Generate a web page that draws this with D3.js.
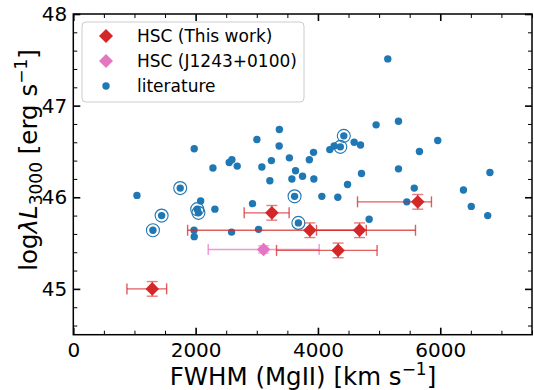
<!DOCTYPE html>
<html><head><meta charset="utf-8">
<script src="https://cdn.jsdelivr.net/npm/d3@7"></script>
<style>body{margin:0;background:#fff}svg{display:block;font-family:"DejaVu Sans",sans-serif}</style>
</head><body><svg id="c" width="534" height="390"></svg>
<script>
// literature points: FWHM(MgII) [km/s], log lambda L3000
const litFWHM = [1041,1748,1444,1302,1977,2283,2549,2593,2680,3002,3083,3239,3369,3366,3533,3634,3574,3214,3748,3933,3859,3928,4194,4265,4423,4366,4592,4696,4951,5317,5660,5142,5959,4712,5317,6812,4484,4064,4325,5575,5453,6379,6507,6776,4837,3618,3680,2082,2026,2046,2315,2931,1974,1977,2588,3029];
const litL    = [46.02,46.10,45.80,45.64,46.53,46.32,46.38,46.41,46.34,46.63,46.33,46.40,46.74,46.56,46.43,46.29,46.20,46.18,46.23,46.20,46.41,46.49,46.52,46.56,46.67,46.55,46.60,46.57,46.79,46.83,46.50,47.51,46.62,46.26,46.31,46.27,46.14,46.01,46.00,46.10,45.95,46.08,45.90,45.80,45.76,46.01,45.72,45.96,45.87,45.83,45.87,45.93,45.64,45.57,45.62,45.65];
// literature points marked with an open ring
const ringFWHM = [1748,1444,1302,4423,4366,3618,3680,2026,2046];
const ringL    = [46.10,45.80,45.64,46.67,46.55,46.01,45.72,45.87,45.83];
// HSC (This work)
const hscFWHM = [1291,3247,5632,3868,4680,4330];
const hscLo   = [877,2794,4647,1869,3977,3323];
const hscHi   = [1526,3529,5856,4791,5595,4967];
const hscL    = [45.00,45.83,45.95,45.64,45.64,45.42];
const hscLerr = [0.08,0.08,0.08,0.08,0.08,0.08];
// HSC (J1243+0100)
const jFWHM = [3111], jLo = [2206], jHi = [4020], jL = [45.43], jLerr = [0.04];
const xMajor = [0,2000,4000,6000];
const yMajor = [45,46,47,48];

const svg = d3.select("#c");
const L = 73.3, R = 532, T = 14, B = 334.7;
const x = d3.scaleLinear().domain([0,7500]).range([L,R]);
const y = d3.scaleLinear().domain([44.5,48]).range([B,T]);
const red = "#d62728", pink = "#e377c2", blue = "#1f77b4";

// minor ticks
const xMinor = d3.range(0,7501,500).filter(v=>!xMajor.includes(v));
const yMinor = d3.range(44.6,48.0,0.2).map(v=>+v.toFixed(1)).filter(v=>!yMajor.includes(v));
function axisStyle(g){ g.select(".domain").remove(); g.selectAll("line").attr("stroke","#000"); }
const ax = [
 [d3.axisBottom(x).tickValues(xMinor).tickSize(-4).tickFormat(""), `translate(0,${B})`,1],
 [d3.axisTop(x).tickValues(xMinor).tickSize(-4).tickFormat(""), `translate(0,${T})`,1],
 [d3.axisLeft(y).tickValues(yMinor).tickSize(-4).tickFormat(""), `translate(${L},0)`,1],
 [d3.axisRight(y).tickValues(yMinor).tickSize(-4).tickFormat(""), `translate(${R},0)`,1],
 [d3.axisBottom(x).tickValues(xMajor).tickSize(-7).tickPadding(8).tickFormat(d3.format("d")), `translate(0,${B})`,1.6],
 [d3.axisTop(x).tickValues(xMajor).tickSize(-7).tickFormat(""), `translate(0,${T})`,1.6],
 [d3.axisLeft(y).tickValues(yMajor).tickSize(-7).tickPadding(6).tickFormat(d3.format("d")), `translate(${L},0)`,1.6],
 [d3.axisRight(y).tickValues(yMajor).tickSize(-7).tickFormat(""), `translate(${R},0)`,1.6]
];
ax.forEach(([a,t,w])=>{
  const g = svg.append("g").attr("transform",t).call(a);
  axisStyle(g);
  g.selectAll("line").attr("stroke-width",w);
  g.selectAll("text").attr("font-size",20).attr("fill","#000").attr("font-family","DejaVu Sans");
});
svg.append("rect").attr("x",L).attr("y",T).attr("width",R-L).attr("height",B-T)
  .attr("fill","none").attr("stroke","#000").attr("stroke-width",1.5);

// literature dots
svg.append("g").selectAll("circle").data(d3.range(litFWHM.length)).join("circle")
  .attr("cx",i=>x(litFWHM[i])).attr("cy",i=>y(litL[i])).attr("r",3.7).attr("fill",blue);
svg.append("g").selectAll("circle").data(d3.range(ringFWHM.length)).join("circle")
  .attr("cx",i=>x(ringFWHM[i])).attr("cy",i=>y(ringL[i])).attr("r",6.5)
  .attr("fill","none").attr("stroke",blue).attr("stroke-width",1.1);

function errs(fx,lo,hi,fy,ferr,col){
  const g = svg.append("g").attr("stroke",col).attr("stroke-width",1.4);
  fx.forEach((v,i)=>{
    const yy = y(fy[i]);
    g.append("line").attr("x1",x(lo[i])).attr("x2",x(hi[i])).attr("y1",yy).attr("y2",yy).attr("stroke-opacity",0.75);
    [lo[i],hi[i]].forEach(e=>g.append("line").attr("x1",x(e)).attr("x2",x(e)).attr("y1",yy-5.5).attr("y2",yy+5.5).attr("stroke-opacity",0.75));
    const y1 = y(fy[i]+ferr[i]), y2 = y(fy[i]-ferr[i]);
    g.append("line").attr("x1",x(v)).attr("x2",x(v)).attr("y1",y1).attr("y2",y2).attr("stroke-opacity",0.6);
    [y1,y2].forEach(e=>g.append("line").attr("x1",x(v)-5.5).attr("x2",x(v)+5.5).attr("y1",e).attr("y2",e).attr("stroke-opacity",0.6));
  });
  svg.append("g").selectAll("path").data(fx).join("path")
    .attr("d",(v,i)=>{const cx=x(v),cy=y(fy[i]),s=6.8;return `M${cx},${cy-s}L${cx+s},${cy}L${cx},${cy+s}L${cx-s},${cy}Z`;})
    .attr("fill",col);
}
errs(jFWHM,jLo,jHi,jL,jLerr,pink);
errs(hscFWHM,hscLo,hscHi,hscL,hscLerr,red);

// legend
const lg = svg.append("g");
lg.append("rect").attr("x",82).attr("y",22).attr("width",222).attr("height",80).attr("rx",4)
  .attr("fill","#fff").attr("fill-opacity",0.8).attr("stroke","#ccc");
const items = [["HSC (This work)",red,"D"],["HSC (J1243+0100)",pink,"D"],["literature",blue,"o"]];
items.forEach(([t,c,m],i)=>{
  const yy = 36 + i*25, xx = 106;
  if(m==="D") lg.append("path").attr("d",`M${xx},${yy-7}L${xx+7},${yy}L${xx},${yy+7}L${xx-7},${yy}Z`).attr("fill",c);
  else lg.append("circle").attr("cx",xx).attr("cy",yy).attr("r",3.7).attr("fill",c);
  lg.append("text").attr("x",137).attr("y",yy).attr("dy","0.35em").attr("font-size",17).text(t);
});

// axis labels
const xl = svg.append("text").attr("x",303).attr("y",385).attr("text-anchor","middle").attr("font-size",24.5);
xl.append("tspan").text("FWHM (MgII) [km s");
xl.append("tspan").attr("dy",-10).attr("font-size",17).text("−1");
xl.append("tspan").attr("dy",10).text("]");
const yl = svg.append("text").attr("transform","translate(37,160) rotate(-90)").attr("text-anchor","middle").attr("font-size",24.5);
yl.append("tspan").text("log");
yl.append("tspan").attr("font-style","italic").text("λL");
yl.append("tspan").attr("dy",5).attr("font-size",17).text("3000");
yl.append("tspan").attr("dy",-5).text(" [erg s");
yl.append("tspan").attr("dy",-10).attr("font-size",17).text("−1");
yl.append("tspan").attr("dy",10).text("]");
</script></body></html>
